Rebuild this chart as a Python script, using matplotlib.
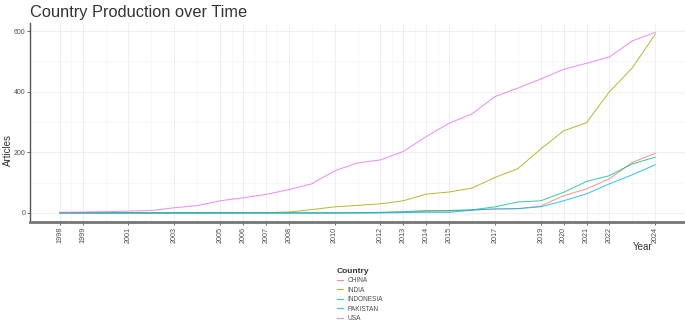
import matplotlib
matplotlib.use("Agg")
import matplotlib.pyplot as plt
from matplotlib.lines import Line2D

plt.rcParams['font.family'] = ['Liberation Sans', 'DejaVu Sans']

years = list(range(1998, 2025))
countries = ["CHINA", "INDIA", "INDONESIA", "PAKISTAN", "USA"]

china = [0, 0, 0, 0, 0, 0, 0, 0, 0, 0, 0, 0, 0, 0, 1, 3, 5, 6, 10, 13, 14, 23, 57, 79, 113, 167, 197]
india = [0, 0, 0, 0, 0, 0, 0, 0, 1, 1, 3, 11, 20, 25, 30, 40, 62, 69, 82, 117, 146, 211, 271, 298, 400, 479, 590]
indonesia = [0, 0, 0, 0, 0, 0, 0, 0, 0, 0, 0, 0, 0, 1, 2, 4, 8, 8, 10, 20, 36, 40, 68, 104, 123, 162, 184]
pakistan = [0, 0, 0, 0, 0, 0, 0, 0, 0, 0, 0, 0, 0, 0, 0, 1, 2, 2, 9, 13, 14, 20, 40, 63, 96, 126, 159]
usa = [2, 3, 4, 6, 8, 17, 24, 40, 50, 61, 77, 96, 139, 165, 175, 203, 252, 296, 327, 384, 412, 442, 474, 494, 515, 568, 596]

series = [china, india, indonesia, pakistan, usa]
colors = ["#F8766D", "#A3A500", "#00BF7D", "#00B0F6", "#E76BF3"]

x_breaks = [1998, 1999, 2001, 2003, 2005, 2006, 2007, 2008, 2010, 2012, 2013,
            2014, 2015, 2017, 2019, 2020, 2021, 2022, 2024]
y_breaks = [0, 200, 400, 600]

fig = plt.figure(figsize=(6.85, 3.22), dpi=100)
ax = fig.add_axes([30 / 685, 1 - 222 / 322, 1 - 30 / 685, (222 - 23) / 322])

# minor grid halfway between the major breaks
x_minor = [(a + b) / 2 for a, b in zip(x_breaks[:-1], x_breaks[1:])]
y_minor = [(a + b) / 2 for a, b in zip(y_breaks[:-1], y_breaks[1:])]
for xv in x_minor:
    ax.axvline(xv, color="#f5f5f5", lw=0.5, zorder=0)
for yv in y_minor:
    ax.axhline(yv, color="#f5f5f5", lw=0.5, zorder=0)
for xv in x_breaks:
    ax.axvline(xv, color="#ececec", lw=0.6, zorder=0)
for yv in y_breaks:
    ax.axhline(yv, color="#ececec", lw=0.6, zorder=0)

for name, vals, col in zip(countries, series, colors):
    ax.plot(years, vals, color=col, lw=0.7, alpha=0.8, label=name, zorder=2)

span_x = years[-1] - years[0]
ax.set_xlim(years[0] - 0.05 * span_x, years[-1] + 0.05 * span_x)
ax.set_ylim(-30, 627)

ax.set_xticks(x_breaks)
ax.set_xticklabels([str(v) for v in x_breaks], rotation=90, fontsize=5.2, color="#4d4d4d")
ax.set_yticks(y_breaks)
ax.set_yticklabels([str(v) for v in y_breaks], fontsize=5, color="#4d4d4d")
ax.tick_params(axis="both", length=2, width=0.5, color="#333333", pad=1.5)

for side in ("top", "right"):
    ax.spines[side].set_visible(False)
ax.spines["left"].set_color("#555555")
ax.spines["left"].set_linewidth(1.0)
ax.spines["bottom"].set_color("#777777")
ax.spines["bottom"].set_linewidth(2.0)
ax.set_facecolor("white")

fig.text(30 / 685, 1 - 12 / 322, "Country Production over Time", fontsize=11.8,
         color="#333333", va="center", ha="left")
fig.text(8 / 685, 1 - 150 / 322, "Articles", fontsize=7, color="#333333",
         rotation=90, va="center", ha="center")
fig.text(643 / 685, 1 - 247 / 322, "Year", fontsize=7, color="#333333",
         va="center", ha="center")

handles = [Line2D([0], [0], color=c, lw=0.8, alpha=0.8) for c in colors]
leg = fig.legend(handles, countries, loc="upper center",
                 bbox_to_anchor=(360 / 685, 1 - 265 / 322), frameon=False,
                 title="Country", fontsize=4.7, handlelength=1.0,
                 handletextpad=0.6, labelspacing=0.38, borderaxespad=0,
                 alignment="left")
leg.get_title().set_fontsize(6)
leg.get_title().set_fontweight("bold")
leg.get_title().set_color("#333333")
for t in leg.get_texts():
    t.set_color("#4d4d4d")

fig.savefig("out.png", dpi=100, facecolor="white")
